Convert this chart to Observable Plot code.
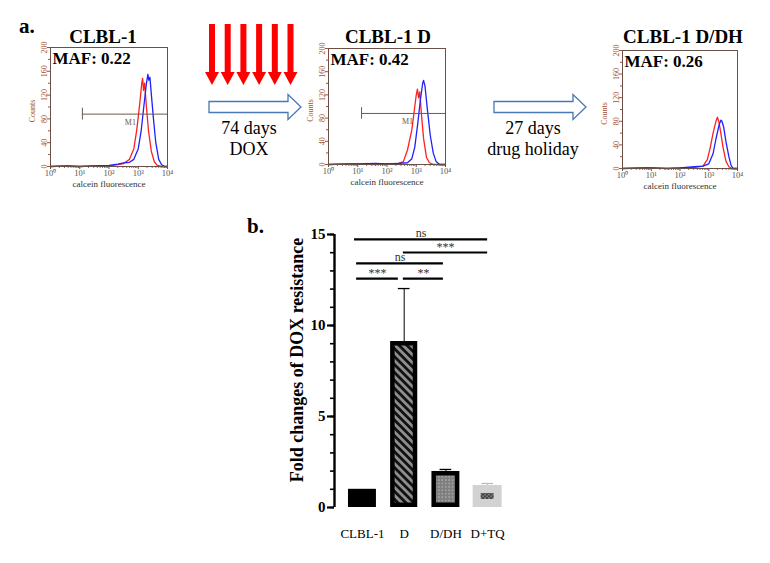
<!DOCTYPE html>
<html>
<head>
<meta charset="utf-8">
<script src="https://cdn.jsdelivr.net/npm/d3@7"></script>
<script src="https://cdn.jsdelivr.net/npm/@observablehq/plot@0.6"></script>
<style>
html,body{margin:0;padding:0;background:#fff;}
#fig{position:relative;width:770px;height:563px;overflow:hidden;background:#fff;font-family:"Liberation Serif","Times New Roman",serif;}
#fig > svg{position:absolute;}
</style>
</head>
<body>
<div id="fig"></div>
<script>
// ---------------- DATA ----------------
const histTitles = ["CLBL-1", "CLBL-1 D", "CLBL-1 D/DH"];
const histMAF = ["MAF: 0.22", "MAF: 0.42", "MAF: 0.26"];
const histXTicks = [0, 1, 2, 3, 4];                 // log10 of calcein fluorescence
const histXTickLabels = ["10⁰", "10¹", "10²", "10³", "10⁴"];
const histYTicks = [0, 40, 80, 120, 160, 200];
// traces: [log10 calcein fluorescence, counts]
const hist1Red = [[0,0],[0.5,1],[1,0],[1.5,1],[2,1],[2.3,3],[2.5,5],[2.7,12],[2.85,30],[2.95,62],[3.05,105],[3.12,140],[3.15,148],[3.18,128],[3.22,140],[3.28,100],[3.35,60],[3.45,25],[3.55,8],[3.65,2],[3.8,0],[4,0]];
const hist1Blue = [[0,0],[0.6,1],[1,0],[1.5,1],[2,2],[2.3,4],[2.5,6],[2.7,7],[2.85,12],[3.0,30],[3.1,60],[3.2,105],[3.28,140],[3.33,155],[3.36,145],[3.4,150],[3.45,120],[3.52,80],[3.6,40],[3.7,12],[3.8,3],[3.9,0],[4,0]];
const hist2Red = [[0,0],[0.6,1],[1,1],[1.6,0],[2,1],[2.4,2],[2.56,5],[2.7,25],[2.85,60],[2.95,100],[3.0,120],[3.04,130],[3.08,115],[3.12,125],[3.18,85],[3.25,45],[3.35,12],[3.45,3],[3.6,0],[4,0]];
const hist2Blue = [[0,0],[0.8,1],[1,1],[1.6,2],[2,1],[2.4,2],[2.7,3],[2.85,10],[2.95,30],[3.05,70],[3.15,115],[3.22,140],[3.25,145],[3.3,135],[3.38,95],[3.48,50],[3.58,20],[3.68,5],[3.8,0],[4,0]];
const hist3Red = [[0,0],[0.7,1],[1,1],[1.5,0],[2,1],[2.5,2],[2.8,4],[2.95,15],[3.05,35],[3.15,60],[3.25,80],[3.3,87],[3.35,80],[3.42,60],[3.5,35],[3.6,12],[3.7,3],[3.8,0],[4,0]];
const hist3Blue = [[0,0],[0.8,1],[1,1],[1.6,0],[2,1],[2.5,3],[2.8,4],[3.0,8],[3.15,25],[3.25,50],[3.35,72],[3.42,82],[3.46,80],[3.52,70],[3.6,45],[3.7,20],[3.78,5],[3.85,0],[4,0]];
const m1Start = [1.09, 1.13, null];
const m1Level = [88, 88, null];
const m1LabelX = [2.73, 2.7, null];
const stepTop = ["74 days", "27 days"];
const stepBottom = ["DOX", "drug holiday"];

const barCategories = ["CLBL-1", "D", "D/DH", "D+TQ"];
const barMeans = [1.0, 9.12, 1.98, 1.21];
const barErrors = [0, 2.91, 0.11, 0.11];
const barYTicks = [0, 5, 10, 15];
const sigFrom = [-0.19, 0.98, -0.14, -0.14, 0.98];
const sigTo = [3.0, 3.0, 1.94, 0.86, 1.94];
const sigLevel = [14.73, 14.01, 13.41, 12.58, 12.58];
const sigLabels = ["ns", "***", "ns", "***", "**"];
const yLabel = "Fold changes of DOX resistance";

// ---------------- STYLES / LAYOUT ----------------
const FONT = "Liberation Serif";
const fig = document.getElementById("fig");
const histLayout = [
  {L: 50, T: 47, W: 117, H: 119},
  {L: 328, T: 48, W: 117, H: 116},
  {L: 622, T: 50, W: 115, H: 118}
];
const brown = "#a0522d";
const frameCol = "#6b5048";
const minorX = [];
for (let k = 0; k < 4; k++) for (let m = 2; m <= 9; m++) minorX.push(k + Math.log10(m));

// pattern defs (shared)
const defs = d3.create("svg").attr("width", 0).attr("height", 0).style("position", "absolute");
const dd = defs.append("defs");
const ps = dd.append("pattern").attr("id", "pat-stripes").attr("patternUnits", "userSpaceOnUse")
  .attr("width", 5.6).attr("height", 5.6).attr("patternTransform", "rotate(-45)");
ps.append("rect").attr("width", 5.6).attr("height", 5.6).attr("fill", "#8e8e8e");
ps.append("rect").attr("width", 2.8).attr("height", 5.6).attr("fill", "#111");
const pd = dd.append("pattern").attr("id", "pat-dots").attr("patternUnits", "userSpaceOnUse")
  .attr("width", 3.4).attr("height", 3.4);
pd.append("rect").attr("width", 3.4).attr("height", 3.4).attr("fill", "#7e7e7e");
pd.append("circle").attr("cx", 1.7).attr("cy", 1.7).attr("r", 0.65).attr("fill", "#d8d8d8");
const ph = dd.append("pattern").attr("id", "pat-honey").attr("patternUnits", "userSpaceOnUse")
  .attr("width", 4).attr("height", 3.6);
ph.append("rect").attr("width", 4).attr("height", 3.6).attr("fill", "#404040");
ph.append("circle").attr("cx", 1).attr("cy", 0.9).attr("r", 0.85).attr("fill", "#9a9a9a");
ph.append("circle").attr("cx", 3).attr("cy", 2.7).attr("r", 0.85).attr("fill", "#9a9a9a");
fig.appendChild(defs.node());

// ---------------- HISTOGRAMS ----------------
const histData = [[hist1Red, hist1Blue], [hist2Red, hist2Blue], [hist3Red, hist3Blue]];
histData.forEach(([red, blue], k) => {
  const lay = histLayout[k];
  const mL = 32, mR = 12, mT = 10, mB = 30;
  const marks = [
    Plot.axisX({ticks: histXTicks, tickFormat: d => histXTickLabels[histXTicks.indexOf(d)], tickSize: 3, tickPadding: 0,
      fontSize: 8.5, fill: "#555", stroke: "#555", label: null}),
    Plot.axisX({ticks: minorX, tickSize: 2, tickFormat: () => "", stroke: "#777", label: null}),
    Plot.axisY({ticks: histYTicks, tickSize: 3, tickPadding: 1, tickRotate: -90, fontSize: 8, fill: brown, stroke: brown, label: null}),
    Plot.axisY({ticks: d3.range(20, 200, 40), tickSize: 2, tickFormat: () => "", stroke: brown, label: null}),
    Plot.text(["Counts"], {text: d => d, frameAnchor: "left", textAnchor: "middle", lineAnchor: "middle", rotate: -90, dx: -18, dy: 4, fontSize: 8, fill: brown}),
    Plot.text(["calcein fluorescence"], {text: d => d, frameAnchor: "bottom", textAnchor: "middle", lineAnchor: "middle", dy: 18, fontSize: 9, fill: "#333"}),
    Plot.line(red, {x: d => d[0], y: d => d[1], stroke: "#ff2020", strokeWidth: 1.3}),
    Plot.line(blue, {x: d => d[0], y: d => d[1], stroke: "#2020ff", strokeWidth: 1.3}),
    Plot.frame({stroke: frameCol, strokeWidth: 1}),
    Plot.text([histMAF[k]], {text: d => d, frameAnchor: "top-left", textAnchor: "start", lineAnchor: "top",
      dx: 2, dy: 4, fontSize: 17, fontWeight: "bold", fill: "#000"})
  ];
  if (m1Start[k] != null) {
    const m1 = [{s: m1Start[k], lv: m1Level[k], lx: m1LabelX[k]}];
    marks.push(
      Plot.ruleY(m1, {y: "lv", x1: "s", x2: histXTicks[histXTicks.length - 1], stroke: "#6b5a50", strokeWidth: 1}),
      Plot.ruleX(m1, {x: "s", y1: d => d.lv - 10, y2: d => d.lv + 10, stroke: "#6b5a50", strokeWidth: 1}),
      Plot.text(m1, {x: "lx", y: "lv", text: () => "M1", dy: 8, fontSize: 8, fill: "#6b5a50"})
    );
  }
  const svg = Plot.plot({
    width: mL + lay.W + mR, height: mT + lay.H + mB,
    marginLeft: mL, marginRight: mR, marginTop: mT, marginBottom: mB,
    x: {domain: [histXTicks[0], histXTicks[histXTicks.length - 1]]},
    y: {domain: [histYTicks[0], histYTicks[histYTicks.length - 1]]},
    style: {fontFamily: FONT, background: "transparent", overflow: "visible"},
    marks
  });
  svg.style.left = (lay.L - mL) + "px";
  svg.style.top = (lay.T - mT) + "px";
  fig.appendChild(svg);
});

// ---------------- BAR CHART ----------------
const barStyles = {
  "CLBL-1": {fill: "#000", stroke: "none", sw: 0, half: 0.335, cap: "#000"},
  "D": {fill: "url(#pat-stripes)", stroke: "#000", sw: 4.5, half: 0.325, cap: "#000"},
  "D/DH": {fill: "url(#pat-dots)", stroke: "#000", sw: 4.5, half: 0.335, cap: "#000"},
  "D+TQ": {fill: "url(#pat-honey)", stroke: "#d2d2d2", sw: 8, half: 0.347, cap: "#bdbdbd"}
};
const bars = barCategories.map((c, i) => ({c, i, mean: barMeans[i], err: barErrors[i]}));
const sig = sigLabels.map((t, i) => ({t, x1: sigFrom[i], x2: sigTo[i], y: sigLevel[i]}));
const xDom = [-0.67, 3.5];
const barMarks = [
  Plot.axisY({ticks: d3.range(0, 16), tickSize: 4, strokeWidth: 1.6, tickFormat: () => "", label: null}),
  Plot.axisY({ticks: barYTicks, tickSize: 7, tickPadding: 2, strokeWidth: 2.2, fontSize: 15, fontWeight: "bold", fill: "#000", label: null}),
  Plot.axisX({ticks: bars.map(d => d.i), tickFormat: i => barCategories[i], tickSize: 0, tickPadding: 21, fontSize: 13, fill: "#000", label: null}),
  Plot.ruleX([xDom[0]], {y1: barYTicks[0], y2: barYTicks[barYTicks.length - 1], strokeWidth: 2.4, stroke: "#000"}),
  Plot.text([yLabel], {text: d => d, frameAnchor: "left", textAnchor: "middle", lineAnchor: "middle", rotate: -90, dx: -37, dy: -11, fontSize: 18, fontWeight: "bold", fill: "#000"})
];
bars.filter(d => d.err > 0).forEach(d => {
  const st = barStyles[d.c];
  barMarks.push(
    Plot.ruleX([d], {x: "i", y1: "mean", y2: e => e.mean + e.err, stroke: st.cap, strokeWidth: 1}),
    Plot.ruleY([d], {y: e => e.mean + e.err, x1: e => e.i - 0.14, x2: e => e.i + 0.14, stroke: st.cap, strokeWidth: 1.3})
  );
});
bars.forEach(d => {
  const st = barStyles[d.c];
  barMarks.push(Plot.rectY([d], {
    x1: e => e.i - st.half, x2: e => e.i + st.half, y1: 0, y2: "mean",
    fill: st.fill, stroke: st.stroke, strokeWidth: st.sw, inset: st.sw / 2
  }));
});
barMarks.push(
  Plot.ruleY(sig, {y: "y", x1: "x1", x2: "x2", stroke: "#000", strokeWidth: 2.2}),
  Plot.text(sig, {x: d => (d.x1 + d.x2) / 2, y: "y", text: "t", lineAnchor: "bottom", dy: -2, fontSize: 12, fill: "#333"})
);
const barSvg = Plot.plot({
  width: 290, height: 330,
  marginLeft: 94, marginRight: 22, marginTop: 14, marginBottom: 43,
  x: {domain: xDom},
  y: {domain: [barYTicks[0], barYTicks[barYTicks.length - 1]]},
  style: {fontFamily: FONT, background: "transparent", overflow: "visible"},
  marks: barMarks
});
barSvg.style.left = "240px";
barSvg.style.top = "220px";
fig.appendChild(barSvg);

// ---------------- DECORATION (panel letters, titles, arrows, step labels) ----------------
const deco = d3.create("svg").attr("width", 770).attr("height", 563)
  .style("left", "0px").style("top", "0px").style("pointer-events", "none")
  .attr("font-family", FONT);
deco.append("text").attr("x", 19).attr("y", 33).attr("font-size", 21).attr("font-weight", "bold").text("a.");
deco.append("text").attr("x", 247).attr("y", 233).attr("font-size", 21).attr("font-weight", "bold").text("b.");
const titleX = [103, 388, 683];
histTitles.forEach((t, k) => {
  deco.append("text").attr("x", titleX[k]).attr("y", 43).attr("text-anchor", "middle")
    .attr("font-size", 19).attr("font-weight", "bold").text(t);
});
// red treatment arrows
for (let j = 0; j < 6; j++) {
  const cx = 212 + j * 15.7;
  deco.append("path")
    .attr("d", `M${cx - 3},24 H${cx + 3} V72 H${cx + 7} L${cx},85 L${cx - 7},72 H${cx - 3} Z`)
    .attr("fill", "#ff0000");
}
// blue outline arrows + step labels
const arrowX = [[209, 288, 301], [494, 573, 586]];
const stepX = [249, 533];
arrowX.forEach(([a, b, c], j) => {
  deco.append("path")
    .attr("d", `M${a},101.5 H${b} V94.5 L${c},107 L${b},119.5 V112.5 H${a} Z`)
    .attr("fill", "#fff").attr("stroke", "#4a78b2").attr("stroke-width", 1.3);
  deco.append("text").attr("x", stepX[j]).attr("y", 134).attr("text-anchor", "middle").attr("font-size", 18).text(stepTop[j]);
  deco.append("text").attr("x", stepX[j]).attr("y", 155).attr("text-anchor", "middle").attr("font-size", 18).text(stepBottom[j]);
});
fig.appendChild(deco.node());
</script>
</body>
</html>
